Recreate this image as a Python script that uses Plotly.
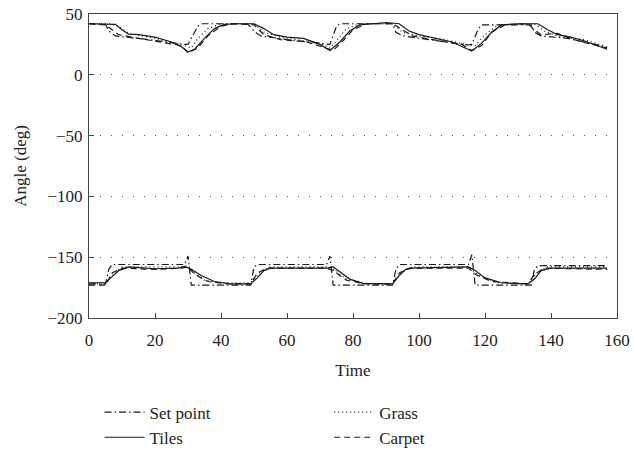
import plotly.graph_objects as go

# ---- data: upper joint (angle ~20..42) ----
set_up_t = [0, 5, 6, 8, 15, 25, 29, 30, 31, 33, 34, 48, 50, 52, 60, 70, 72, 73, 75, 76, 92, 93, 95, 105, 115, 116, 118, 119, 134, 135, 137, 145, 155, 157]
set_up_y = [42, 41.5, 36, 32, 30, 26, 25, 25, 30, 40, 42, 42, 36, 32, 29, 25.5, 25, 25, 40, 42, 42, 35, 32, 28, 24.5, 25, 38, 41, 41, 35, 32, 30, 24, 22]

tiles_up_t = [0, 5, 8, 10, 12, 15, 20, 25, 28, 30, 32, 35, 38, 41, 45, 50, 53, 56, 60, 65, 70, 73, 76, 79, 82, 86, 90, 94, 97, 100, 105, 110, 114, 116, 119, 122, 125, 130, 136, 139, 142, 146, 150, 154, 157]
tiles_up_y = [42, 42, 41.5, 37, 33.5, 33, 31, 27, 23, 19, 21, 30, 38, 41.5, 42, 42, 38, 33, 31, 30, 25, 20, 27, 36, 41, 42, 43, 42, 36, 33, 30, 27, 22, 19.5, 26, 35, 41, 42, 42, 37, 33, 31, 28, 24, 21]

grass_up_t = [0, 6, 9, 12, 20, 25, 29, 31, 33, 36, 40, 50, 53, 58, 65, 70, 73, 75, 78, 82, 92, 95, 100, 108, 114, 117, 120, 124, 135, 138, 143, 150, 157]
grass_up_y = [42, 42, 40, 34, 30, 27, 24, 22, 30, 38, 42, 42, 35, 31, 28, 26, 22, 28, 38, 42, 42, 35, 32, 29, 25, 24, 33, 41, 42, 36, 31, 29, 23]

carpet_up_t = [0, 5, 7, 9, 15, 22, 28, 30, 33, 36, 40, 44, 50, 53, 58, 66, 72, 74, 77, 80, 84, 92, 95, 98, 106, 113, 116, 119, 122, 126, 133, 135, 137, 142, 148, 157]
carpet_up_y = [42, 41, 37, 33, 30, 27, 24, 18, 22, 32, 40, 42, 41, 33, 29, 27, 22, 20, 28, 37, 42, 42, 37, 32, 28, 25, 20, 24, 35, 41, 42, 37, 33, 34, 28, 22]

# ---- data: lower joint (angle ~-172..-155) ----
set_lo_t = [0, 5, 6, 7, 29, 30, 31, 49, 50, 51, 72, 73, 74, 92, 93, 94, 115, 116, 117, 134, 135, 136, 157]
set_lo_y = [-172, -172, -160, -156, -156, -149, -173, -173, -158, -156, -156, -149, -173, -173, -160, -156, -156, -148, -173, -173, -160, -157, -157]

tiles_lo_t = [0, 5, 7, 9, 12, 20, 27, 29, 31, 34, 38, 43, 49, 51, 53, 55, 72, 74, 76, 79, 83, 92, 94, 96, 98, 115, 117, 120, 125, 133, 135, 137, 140, 157]
tiles_lo_y = [-171, -171, -166, -161, -158, -159.5, -159, -157.5, -160, -165, -170, -172, -172, -167, -161, -159, -159, -158, -162, -168, -171.5, -172, -165, -160, -159, -158, -161, -167, -171, -172, -168, -161, -159, -159]

grass_lo_t = [0, 5, 7, 10, 20, 28, 30, 32, 35, 40, 49, 52, 55, 72, 74, 78, 85, 92, 95, 98, 115, 118, 124, 133, 136, 139, 157]
grass_lo_y = [-172, -172, -164, -158, -158, -158, -157, -163, -169, -171, -171, -162, -158, -158, -160, -168, -172, -172, -162, -158, -158, -165, -171, -172, -162, -158, -158]

carpet_lo_t = [0, 5, 7, 10, 20, 28, 30, 32, 36, 42, 49, 51, 54, 72, 74, 78, 84, 92, 94, 97, 115, 117, 122, 133, 135, 138, 157]
carpet_lo_y = [-173, -173, -163, -159, -160, -159, -158, -164, -170, -172, -172, -163, -159, -159, -161, -169, -172, -172, -163, -159, -159, -164, -170, -172, -164, -159, -160]

series_names = ["Set point", "Tiles", "Grass", "Carpet"]
x_ticks = [0, 20, 40, 60, 80, 100, 120, 140, 160]
y_ticks = [50, 0, -50, -100, -150, -200]

FONT = "Liberation Serif"
series = [
    (series_names[0], set_up_t, set_up_y, set_lo_t, set_lo_y, "7px,3px,1.5px,3px", "legend"),
    (series_names[1], tiles_up_t, tiles_up_y, tiles_lo_t, tiles_lo_y, "solid", "legend"),
    (series_names[2], grass_up_t, grass_up_y, grass_lo_t, grass_lo_y, "1px,3px", "legend2"),
    (series_names[3], carpet_up_t, carpet_up_y, carpet_lo_t, carpet_lo_y, "6px,4px", "legend2"),
]

fig = go.Figure()
for name, ut, uy, lt, ly, dash, lg in series:
    fig.add_trace(go.Scatter(
        x=list(ut) + [None] + list(lt),
        y=list(uy) + [None] + list(ly),
        mode="lines", name=name, connectgaps=False,
        line=dict(color="#1a1a1a", width=1.2, dash=dash),
        legend=lg,
    ))

axis_common = dict(
    showline=True, linecolor="#444", linewidth=1, mirror=True,
    ticks="inside", ticklen=5, tickcolor="#444", zeroline=False,
    automargin=False,
    tickfont=dict(family=FONT, size=17, color="#222"),
)

fig.update_layout(
    width=634, height=455,
    margin=dict(l=89, r=17, t=14, b=137, autoexpand=False),
    paper_bgcolor="white", plot_bgcolor="white",
    font=dict(family=FONT, size=17, color="#222"),
    xaxis=dict(range=[0, 160], tickvals=x_ticks, showgrid=False,
               ticklabelstandoff=7,
               title=dict(text="Time", font=dict(family=FONT, size=17), standoff=14),
               **axis_common),
    yaxis=dict(range=[-200, 50], tickvals=y_ticks, showgrid=True,
               gridcolor="#555", gridwidth=1, griddash="1px,10px",
               ticklabelstandoff=2,
               title=dict(text="Angle (deg)", font=dict(family=FONT, size=17), standoff=16),
               **axis_common),
    legend=dict(x=0.02, y=-0.252, xanchor="left", yanchor="top", orientation="v",
                bgcolor="rgba(0,0,0,0)", font=dict(family=FONT, size=17),
                itemwidth=40, tracegroupgap=0),
    legend2=dict(x=0.455, y=-0.252, xanchor="left", yanchor="top", orientation="v",
                 bgcolor="rgba(0,0,0,0)", font=dict(family=FONT, size=17),
                 itemwidth=40, tracegroupgap=0),
)

fig.write_html("out.html")
